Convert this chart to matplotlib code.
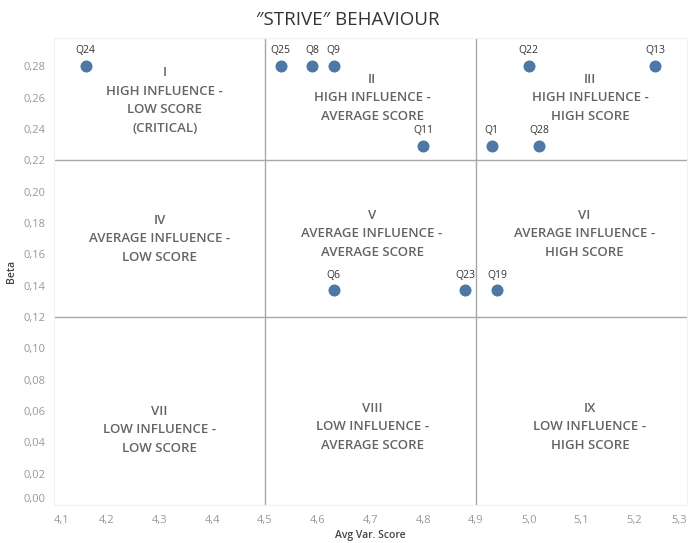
import matplotlib.pyplot as plt
from matplotlib.ticker import FuncFormatter

# data
names = ['Q24', 'Q25', 'Q8', 'Q9', 'Q11', 'Q1', 'Q22', 'Q13', 'Q28', 'Q6', 'Q23', 'Q19']
score = [4.16, 4.53, 4.59, 4.63, 4.80, 4.93, 5.00, 5.24, 5.02, 4.63, 4.88, 4.94]
beta = [0.28, 0.28, 0.28, 0.28, 0.229, 0.229, 0.28, 0.28, 0.229, 0.137, 0.137, 0.137]

# quadrant boundaries
x_cuts = [4.5, 4.9]
y_cuts = [0.22, 0.12]

# quadrant captions
quad_text = [
    'I\nHIGH INFLUENCE -\nLOW SCORE\n(CRITICAL)',
    'II\nHIGH INFLUENCE -\nAVERAGE SCORE',
    'III\nHIGH INFLUENCE -\nHIGH SCORE',
    'IV\nAVERAGE INFLUENCE -\nLOW SCORE',
    'V\nAVERAGE INFLUENCE -\nAVERAGE SCORE',
    'VI\nAVERAGE INFLUENCE -\nHIGH SCORE',
    'VII\nLOW INFLUENCE -\nLOW SCORE',
    'VIII\nLOW INFLUENCE -\nAVERAGE SCORE',
    'IX\nLOW INFLUENCE -\nHIGH SCORE',
]
quad_x = [4.31, 4.703, 5.116, 4.30, 4.703, 5.105, 4.30, 4.703, 5.116]
quad_y = [0.258, 0.260, 0.260, 0.170, 0.173, 0.173, 0.048, 0.050, 0.050]

plt.rcParams['font.family'] = ['Open Sans', 'DejaVu Sans']

fig = plt.figure(figsize=(6.88, 5.43), dpi=100)
ax = fig.add_axes([54 / 688, 38 / 543, 633 / 688, 467 / 543])

# reference lines
for xc in x_cuts:
    ax.axvline(xc, color='#a8a8a8', lw=1, zorder=1)
for yc in y_cuts:
    ax.axhline(yc, color='#a8a8a8', lw=1, zorder=1)

ax.scatter(score, beta, s=75, color='#4e79a7', zorder=3, linewidths=0)
for n, xv, yv in zip(names, score, beta):
    ax.annotate(n, (xv, yv), xytext=(0, 7), textcoords='offset points',
                ha='center', va='bottom', fontsize=7.5, color='#333333')

for t, xv, yv in zip(quad_text, quad_x, quad_y):
    ax.text(xv, yv, t, ha='center', va='center', fontsize=9.5,
            color='#646464', linespacing=1.55, fontweight='semibold')

ax.set_xlim(4.1, 5.3)
ax.set_ylim(0, 0.298)
ax.set_xticks([4.1 + 0.1 * i for i in range(13)])
ax.set_yticks([0.02 * i for i in range(15)])
ax.xaxis.set_major_formatter(FuncFormatter(lambda v, p: f'{v:.1f}'.replace('.', ',')))
ax.yaxis.set_major_formatter(FuncFormatter(lambda v, p: f'{v:.2f}'.replace('.', ',')))
ax.tick_params(length=0, labelsize=8, labelcolor='#999999')
ax.tick_params(axis='x', pad=7)
ax.tick_params(axis='y', pad=6)

# end labels pulled inside like the original
xl = ax.get_xticklabels()
xl[0].set_ha('left')
xl[-1].set_ha('right')
ax.get_yticklabels()[0].set_va('bottom')

for s in ax.spines.values():
    s.set_color('#f0f0f0')

ax.set_xlabel('Avg Var. Score', fontsize=7.5, color='#444444', labelpad=3,
              fontweight='semibold')
ax.set_ylabel('Beta', fontsize=7.5, color='#444444', labelpad=5,
              fontweight='semibold')

fig.text(348 / 688, 1 - 20 / 543, '″STRIVE″ BEHAVIOUR', ha='center', va='center',
         fontsize=13.5, color='#333333')

fig.savefig('out.png', dpi=100)
